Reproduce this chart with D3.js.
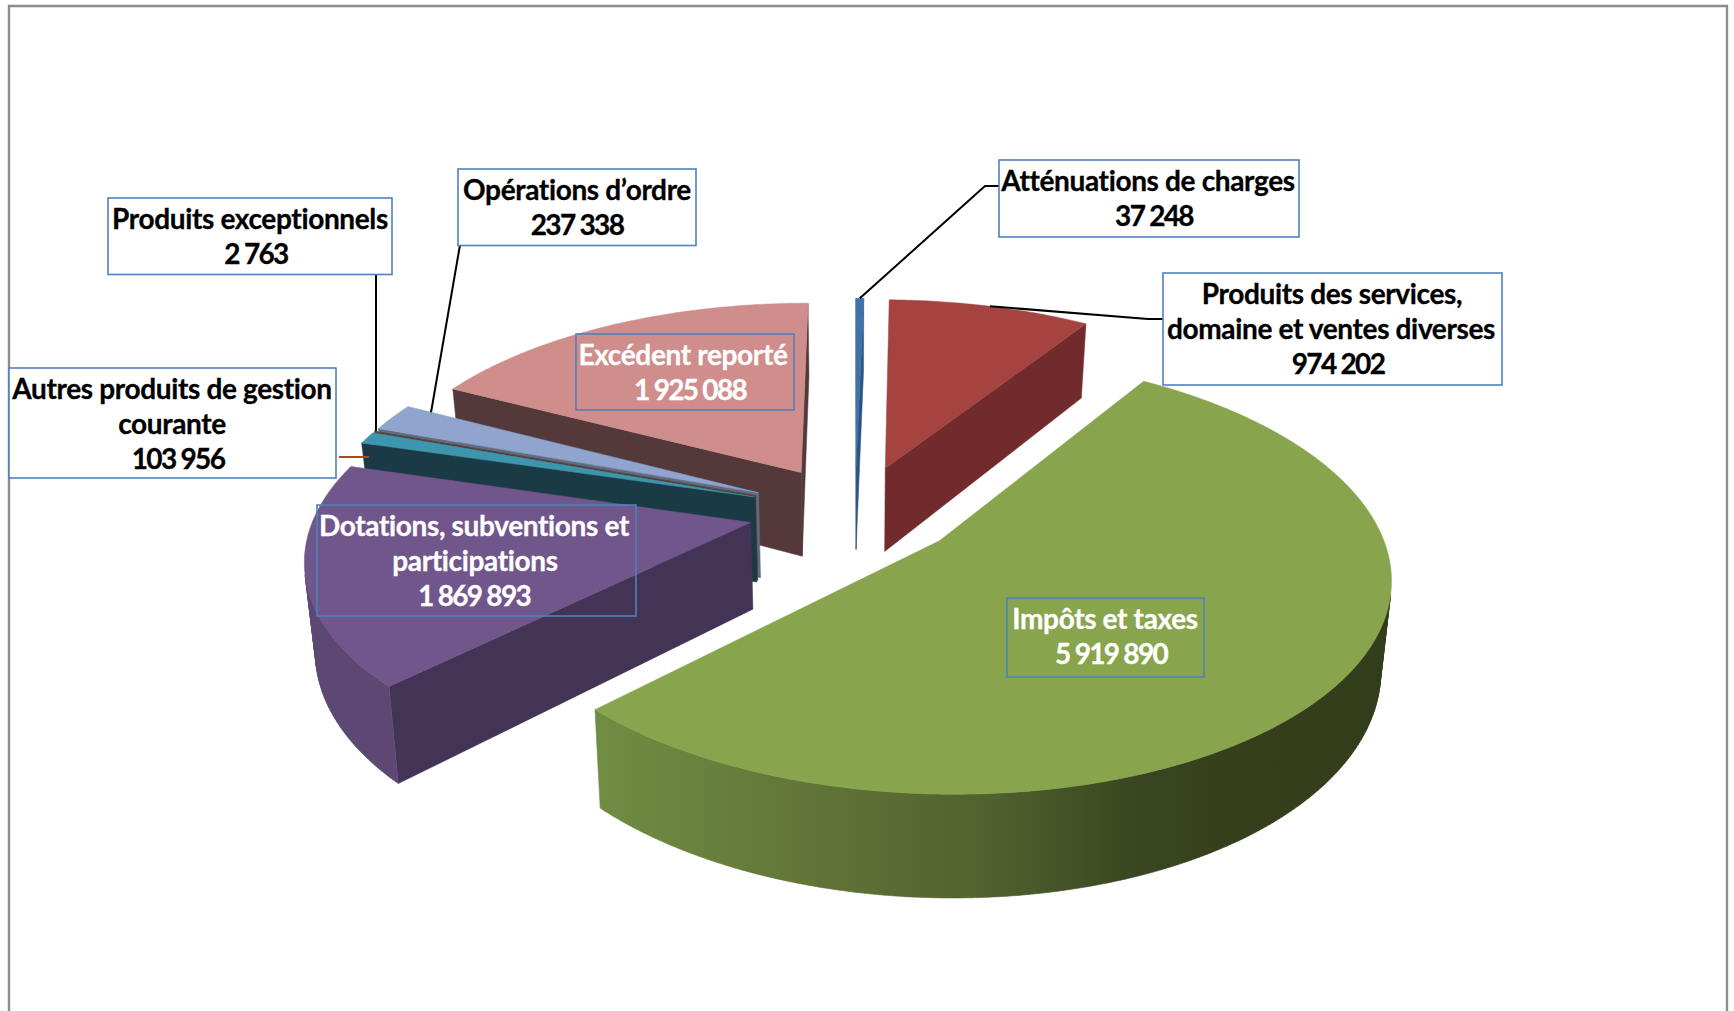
<!DOCTYPE html>
<html><head><meta charset="utf-8">
<script src="https://cdnjs.cloudflare.com/ajax/libs/d3/7.8.5/d3.min.js"></script>
<style>html,body{margin:0;background:#fff}svg{display:block}</style>
</head><body><svg id="c" width="1734" height="1011"></svg>
<script>
// ---- data
const categories = ["Atténuations de charges","Produits des services, domaine et ventes diverses","Impôts et taxes","Dotations, subventions et participations","Autres produits de gestion courante","Produits exceptionnels","Opérations d’ordre","Excédent reporté"];
const values = [37248,974202,5919890,1869893,103956,2763,237338,1925088];
const valueLabels = ["37 248","974 202","5 919 890","1 869 893","103 956","2 763","237 338","1 925 088"];
// ---- styles
const topColors  = ["#3f72ab","#a54341","#88a44d","#71568c","#3d96ae","#6b4a3a","#8fa5cd","#cf8d8b"];
const wallColors = ["#2c5480","#722b2c","#5c7033","#433355","#1a3a46","#4a3528","#5d6c87","#53393a"];
const rimStops = [
  [["0","#3f72ab"],["1","#3f72ab"]],
  [["0","#7a3030"],["1","#7a3030"]],
  [["0","#718d43"],["0.3","#5f7236"],["0.5","#4f612d"],["0.68","#394621"],["0.8","#363f1c"],["1","#343d1b"]],
  [["0","#5d4873"],["1","#5d4873"]],
  [["0","#1a3a46"],["1","#1a3a46"]],
  [["0","#4a3528"],["1","#4a3528"]],
  [["0","#5d6c87"],["1","#5d6c87"]],
  [["0","#53393a"],["1","#53393a"]]
];
const drawOrder = [7,6,5,4,3,0,1,2];
// ---- projection settings
const cx=855, cy=511, Rx=435, Ry=205.5, persp=0.15, explodeX=0.245, explodeY=0.225, depth=86, shrink=0.98;

const svg = d3.select("#c");
svg.append("path").attr("d","M9,1011V6H1727V1011").attr("fill","none").attr("stroke","#8c8c8c").attr("stroke-width",2.4);

const arcs = d3.pie().sort(null).startAngle(0).endAngle(2*Math.PI)(values);
const w = Y => 1+persp*Y;
function ground(d,a,r){
  const m=(d.startAngle+d.endAngle)/2;
  return [r*Math.sin(a)+explodeX*Math.sin(m), r*Math.cos(a)+explodeY*Math.cos(m)];
}
function topP(d,a,r){ const [X,Y]=ground(d,a,r); return [cx+Rx*X/w(Y), cy-Ry*Y/w(Y)]; }
function botP(d,a,r){ const [X,Y]=ground(d,a,r); return [cx+shrink*Rx*X/w(Y), cy-Ry*Y/w(Y)+depth/w(Y)]; }
const line = d3.line();
const closed = p => line(p)+"Z";
const defs = svg.append("defs");
const pie = svg.append("g");

drawOrder.forEach(i=>{
  const d=arcs[i];
  const n=Math.max(4,Math.ceil((d.endAngle-d.startAngle)/0.01));
  const angs=d3.range(n+1).map(k=>d.startAngle+(d.endAngle-d.startAngle)*k/n);
  const T=angs.map(a=>topP(d,a,1)), B=angs.map(a=>botP(d,a,1));
  const A=topP(d,0,0), Ab=botP(d,0,0);
  const startWall=[A,T[0],B[0],Ab], endWall=[T[n],A,Ab,B[n]];
  [startWall,endWall].forEach(q=>{
    if(d3.polygonArea(q)>0) pie.append("path").attr("d",closed(q)).attr("fill",wallColors[i]).attr("stroke",wallColors[i]).attr("stroke-width",.5);
  });
  const gid="rim"+i;
  const xs=T.concat(B).map(p=>p[0]);
  const g=defs.append("linearGradient").attr("id",gid).attr("gradientUnits","userSpaceOnUse")
    .attr("x1",d3.min(xs)).attr("x2",d3.max(xs)).attr("y1",0).attr("y2",0);
  rimStops[i].forEach(s=>g.append("stop").attr("offset",s[0]).attr("stop-color",s[1]));
  let dstr="";
  for(let k=0;k<n;k++){
    const q=[T[k],T[k+1],B[k+1],B[k]];
    if(d3.polygonArea(q)>0) dstr+=closed(q);
  }
  if(dstr) pie.append("path").attr("d",dstr).attr("fill",`url(#${gid})`).attr("stroke",`url(#${gid})`).attr("stroke-width",.6);
  pie.append("path").attr("d",closed([A].concat(T))).attr("fill",topColors[i]).attr("stroke",topColors[i]).attr("stroke-width",.5);
});

// ---- leader lines, anchored on their slice
const mid = i => (arcs[i].startAngle+arcs[i].endAngle)/2;
const lg = svg.append("g").attr("fill","none").attr("stroke-width",2).attr("stroke","#000");
lg.append("path").attr("d",line([[999,186],[985,186],topP(arcs[0],mid(0),1)]));
lg.append("path").attr("d",line([[1163,319],[1148,319],topP(arcs[1],mid(1),1)]));
lg.append("path").attr("d",line([[376,275],[376,topP(arcs[5],mid(5),1)[1]]]));
lg.append("path").attr("d",line([[460,245],topP(arcs[6],arcs[6].endAngle,0.93)]));
lg.append("path").attr("d",line([[339,457],[369,457]])).attr("stroke","#b5431e");

// ---- label boxes
const boxes = [
 {i:0,x:999,y:160,w:300,h:77,lines:["Atténuations de charges"],cx:[1148,1154]},
 {i:1,x:1163,y:273,w:339,h:112,lines:["Produits des services,","domaine et ventes diverses"],cx:[1332,1331,1338]},
 {i:2,x:1007,y:598,w:197,h:79,lines:["Impôts et taxes"],cx:[1105,1111],white:1},
 {i:3,x:317,y:505,w:319,h:111,lines:["Dotations, subventions et","participations"],cx:[474,475,474],white:1},
 {i:4,x:9,y:368,w:327,h:110,lines:["Autres produits de gestion","courante"],cx:[172,172,178]},
 {i:5,x:108,y:198,w:284,h:76.5,lines:["Produits exceptionnels"],cx:[250,256]},
 {i:6,x:458,y:169,w:238,h:76.5,lines:["Opérations d’ordre"],cx:[577,577]},
 {i:7,x:576,y:334,w:218,h:76,lines:["Excédent reporté"],cx:[683,690],white:1},
];
const lb = svg.append("g").style("font-family","Lato, 'Open Sans', sans-serif").style("font-weight",700).style("font-size","28px");
boxes.forEach(b=>{
  lb.append("rect").attr("x",b.x).attr("y",b.y).attr("width",b.w).attr("height",b.h).attr("fill",b.i===2||b.i===3||b.i===7?"none":"#fff").attr("stroke","#4f81bd").attr("stroke-width",1.6);
  b.lines.forEach((t,k)=>addText(b,t,k,"-0.35px"));
  addText(b,valueLabels[b.i],b.lines.length,"-1.7px");
});
function addText(b,t,k,spacing){
  const c=b.white?"#fff":"#000";
  lb.append("text").attr("x",b.cx[k]).attr("y",b.y+30.5+35*k).attr("text-anchor","middle").attr("fill",c).attr("stroke",c).attr("stroke-width",.3).style("letter-spacing",spacing).text(t);
}
</script></body></html>
